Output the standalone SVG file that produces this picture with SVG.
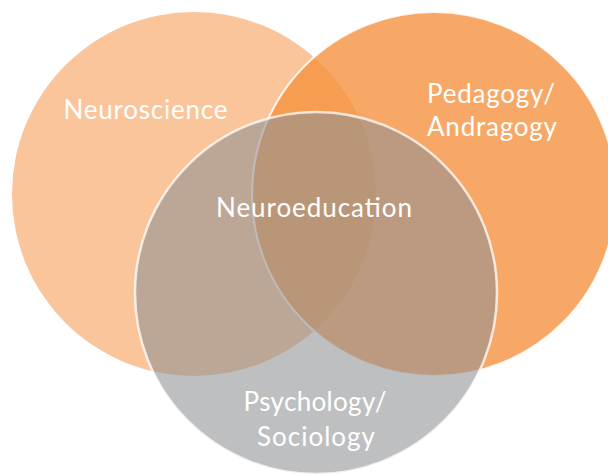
<svg xmlns="http://www.w3.org/2000/svg" width="608" height="475" viewBox="0 0 608 475">
  <style>
    .lbl { font-family: Lato, "Open Sans", "Liberation Sans", sans-serif; font-weight: 400; font-size: 26px; fill: #ffffff; text-anchor: middle; }
    .neuro { fill: #FAC59B; }
    .peda { fill: #F59240; fill-opacity: 0.8; stroke: #ffffff; stroke-width: 2; stroke-opacity: 0.85; }
    .psych { fill: #8F9194; fill-opacity: 0.58; stroke: #ffffff; stroke-width: 2.5; stroke-opacity: 0.75; }
  </style>
  <rect width="608" height="475" fill="#ffffff"/>
  <g id="connectors"></g>
  <g id="neuroscience">
    <circle class="neuro" cx="194" cy="194" r="182"/>
    <text class="lbl" x="145.5" y="119" textLength="164" lengthAdjust="spacing">Neuroscience</text>
  </g>
  <g id="pedagogy">
    <circle class="peda" cx="434" cy="194" r="182"/>
    <text class="lbl" x="491" y="103" textLength="128" lengthAdjust="spacing">Pedagogy/</text>
    <text class="lbl" x="492" y="136" textLength="130" lengthAdjust="spacing">Andragogy</text>
  </g>
  <g id="psychology">
    <circle class="psych" cx="316" cy="293" r="181"/>
    <text class="lbl" x="315" y="411" textLength="143" lengthAdjust="spacing">Psychology/</text>
    <text class="lbl" x="316" y="446" textLength="118" lengthAdjust="spacing">Sociology</text>
  </g>
  <g id="neuroeducation">
    <text class="lbl" x="314" y="217" textLength="196" lengthAdjust="spacing">Neuroeducation</text>
  </g>
</svg>
